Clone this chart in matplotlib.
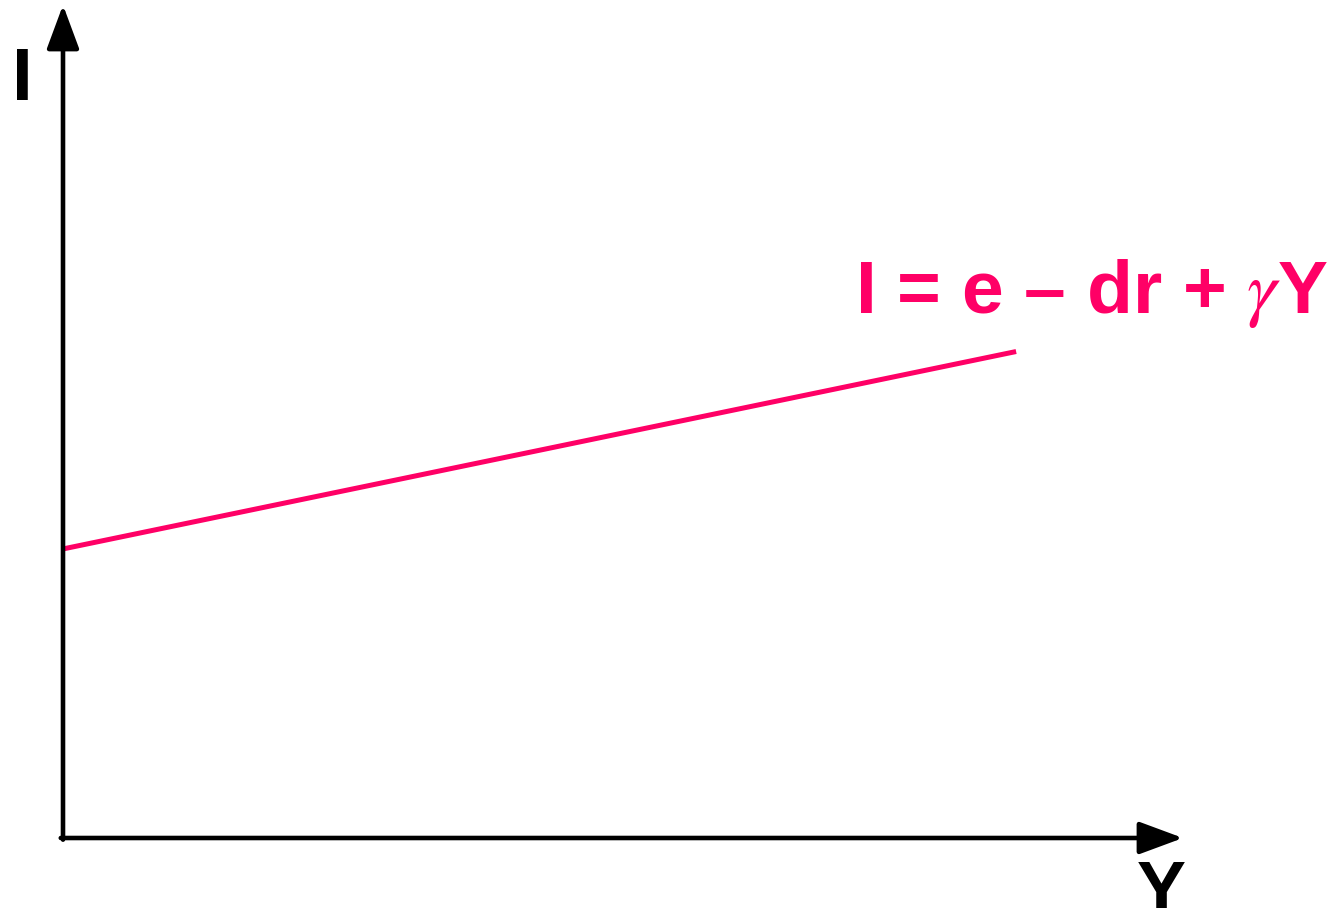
import matplotlib
matplotlib.use("Agg")
import matplotlib.pyplot as plt

# investment schedule I = e - dr + gamma*Y (unitless sketch values)
income = [0.0, 8.51]
invest = [3.47, 5.84]
x_max = 10
y_max = 10

pink = "#FF0066"
plt.rcParams["font.family"] = ["Liberation Sans", "DejaVu Sans"]
plt.rcParams["mathtext.fontset"] = "stix"

W, H = 1332, 908
fig = plt.figure(figsize=(W / 100, H / 100), dpi=100)
ax = fig.add_axes([63 / W, 70 / H, 1120 / W, 833 / H])
ax.set_xlim(0, x_max)
ax.set_ylim(0, y_max)
ax.axis("off")

ax.plot(income, invest, color=pink, lw=3.6, solid_capstyle="butt")

# axes with arrow heads
arrow = dict(arrowstyle="-|>,head_length=1.35,head_width=0.5", lw=3.3,
             color="black", shrinkA=0, shrinkB=0, mutation_scale=20)
ax.annotate("", xy=(0, 1), xytext=(0, -0.002), xycoords="axes fraction",
            arrowprops=arrow, annotation_clip=False)
ax.annotate("", xy=(1, 0), xytext=(-0.002, 0), xycoords="axes fraction",
            arrowprops=arrow, annotation_clip=False)

# axis labels (the Y sits on the bottom edge, as in the original slide)
fig.text(12 / W, 1 - 100 / H, "I", fontsize=54, fontweight="bold",
         ha="left", va="baseline")
fig.text(1161 / W, 1 - 913 / H, "Y", fontsize=53, fontweight="bold",
         ha="center", va="baseline")

# equation label
fig.text(855 / W, 1 - 313 / H, r"I = e – dr + $\gamma$Y", fontsize=54,
         fontweight="bold", color=pink, ha="left", va="baseline")

fig.savefig("out.png", dpi=100, facecolor="white")
